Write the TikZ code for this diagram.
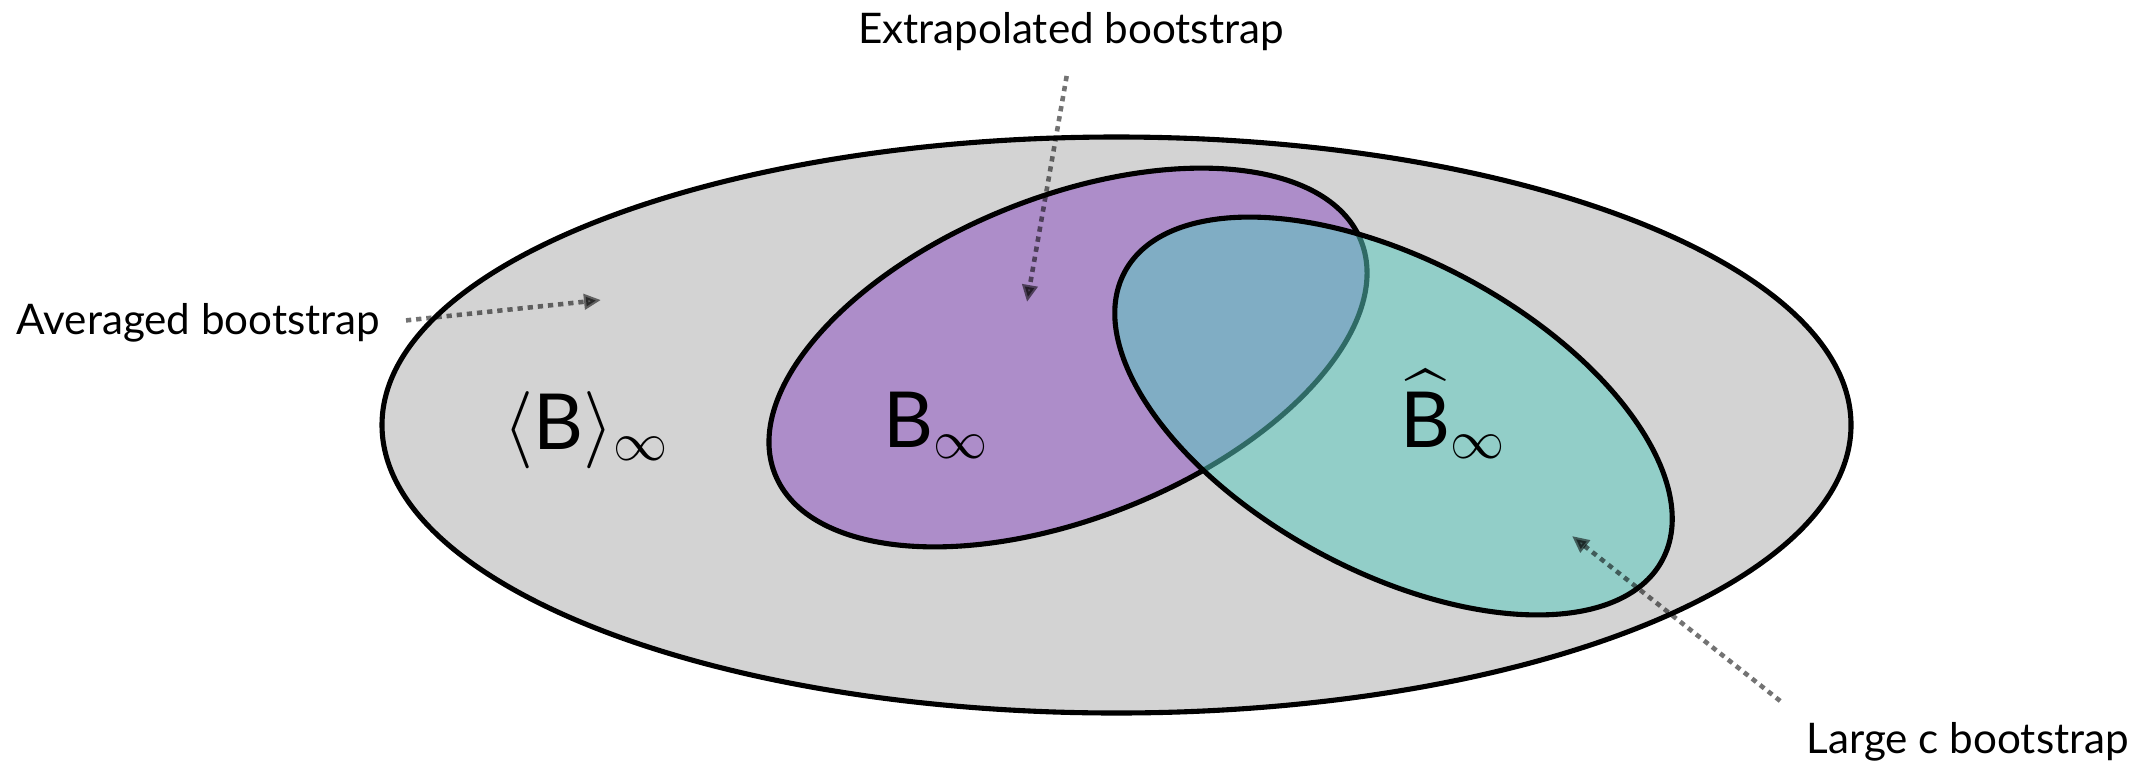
\RequirePackage{fix-cm}
\documentclass[tikz,border=0pt]{standalone}
\usepackage{amsmath}
\usepackage{fontspec}
\setmainfont{Lato}
\usetikzlibrary{arrows.meta,positioning}
\definecolor{setgray}{RGB}{211,211,211}
\definecolor{setpurple}{RGB}{173,141,201}
\definecolor{setteal}{RGB}{89,202,192}

\begin{document}
\begin{tikzpicture}[scale=1, >={Triangle[length=1.7mm,width=1.5mm]}, line join=round,
	region/.style={draw=black, line width=1.45pt},
	caption/.style={inner sep=0pt, font=\fontsize{12}{14}\selectfont},
	setname/.style={inner sep=0pt, anchor=base west, font=\fontsize{22}{26}\selectfont},
	pointer/.style={->, line width=1.3pt, line cap=butt, dash pattern=on 1.5pt off 1.4pt, opacity=0.55}]
	\useasboundingbox (0,0) rectangle (21.31,7.64);
	\coordinate (Oavg) at (11.165,3.39);   % centre of the big set
	\coordinate (Oext) at (10.68,4.065);   % centre of the purple set
	\coordinate (Olrg) at (13.935,3.48);   % centre of the teal set
	% the three sets
	\draw[region, fill=setgray] (Oavg) ellipse [x radius=7.345, y radius=2.88];
	\draw[region, fill=setpurple] (Oext) ellipse [x radius=3.154, y radius=1.606, rotate=21.7];
	\draw[region, fill=setteal, fill opacity=0.53] (Olrg) ellipse [x radius=3.05, y radius=1.556, rotate=-28.2];
	% names of the sets
	\node[setname] (avgset) at (5.03,3.15) {$\langle\text{B}\rangle_\infty$};
	\node[setname] (extset) at (8.83,3.17) {$\text{B}_\infty$};
	\node[setname] (lrgset) at (14.00,3.17) {$\widehat{\text{B}}_\infty$};
	% captions and pointers
	\node[caption, anchor=west] (avg) at (0.16,4.41) {Averaged bootstrap};
	\node[caption] (ext) at (10.71,7.325) {Extrapolated bootstrap};
	\node[caption, anchor=west] (lrg) at (18.06,0.225) {Large c bootstrap};
	\coordinate (avgtip) at (6.01,4.64);
	\coordinate (exttip) at (10.27,4.62);
	\coordinate (lrgtip) at (15.72,2.28);
	\draw[pointer, shorten <=2.5mm] (avg.east) -- (avgtip);
	\draw[pointer, shorten <=2.5mm] (ext.south) -- (exttip);
	\draw[pointer, shorten <=3.3mm] (lrg.north west) -- (lrgtip);
\end{tikzpicture}
\end{document}
